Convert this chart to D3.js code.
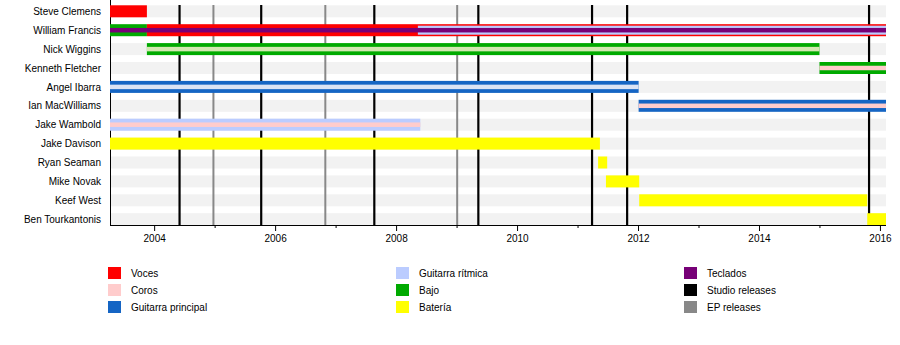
<!DOCTYPE html>
<html>
<head>
<meta charset="utf-8">
<script src="https://cdn.jsdelivr.net/npm/d3@7"></script>
<style>
  body { margin: 0; background: #fff; }
  svg { display: block; font-family: "Liberation Sans", Arial, sans-serif; }
</style>
</head>
<body>
<svg id="chart" width="900" height="345"></svg>
<script>
// Timeline span (decimal years)
const periodStart = 2003.27;
const periodEnd = 2016.1;

const members = [
  "Steve Clemens", "William Francis", "Nick Wiggins", "Kenneth Fletcher",
  "Angel Ibarra", "Ian MacWilliams", "Jake Wambold", "Jake Davison",
  "Ryan Seaman", "Mike Novak", "Keef West", "Ben Tourkantonis"
];

const roleColors = {
  voc: "#ff0000",
  bvoc: "#ffcccc",
  lead: "#1565c4",
  rhythm: "#bbccff",
  bass: "#00aa00",
  drums: "#ffff00",
  keys: "#770077",
  bassInner: "#d4e8b2",
  leadInner: "#dbe3f4",
  studio: "#000000",
  ep: "#888888"
};

// Legend entries, laid out column by column
const legendItems = [
  ["Voces", "voc"], ["Coros", "bvoc"], ["Guitarra principal", "lead"],
  ["Guitarra rítmica", "rhythm"], ["Bajo", "bass"], ["Batería", "drums"],
  ["Teclados", "keys"], ["Studio releases", "studio"], ["EP releases", "ep"]
];

const studioReleases = [2004.42, 2005.77, 2007.64, 2009.36, 2011.24, 2011.82, 2015.82];
const epReleases = [2004.98, 2006.83, 2009.01];

const majorTicks = [2004, 2006, 2008, 2010, 2012, 2014, 2016];
const minorTicks = [2005, 2007, 2009, 2011, 2013, 2015];

// [member, role, from, till, layer]  layer: 0 = full bar, 1 = medium, 2 = thin stripe
const periods = [
  ["Steve Clemens", "voc", periodStart, 2003.88, 0],
  ["William Francis", "bass", periodStart, 2003.88, 0],
  ["William Francis", "voc", 2003.88, periodEnd, 0],
  ["William Francis", "rhythm", 2008.36, periodEnd, 1],
  ["William Francis", "keys", periodStart, periodEnd, 2],
  ["Nick Wiggins", "bass", 2003.88, 2015.0, 0],
  ["Nick Wiggins", "bassInner", 2003.88, 2015.0, 2],
  ["Kenneth Fletcher", "bass", 2015.0, periodEnd, 0],
  ["Kenneth Fletcher", "bvoc", 2015.0, periodEnd, 2],
  ["Angel Ibarra", "lead", periodStart, 2012.01, 0],
  ["Angel Ibarra", "leadInner", periodStart, 2012.01, 2],
  ["Ian MacWilliams", "lead", 2012.01, periodEnd, 0],
  ["Ian MacWilliams", "bvoc", 2012.01, periodEnd, 2],
  ["Jake Wambold", "rhythm", periodStart, 2008.4, 0],
  ["Jake Wambold", "bvoc", periodStart, 2008.4, 2],
  ["Jake Davison", "drums", periodStart, 2011.37, 0],
  ["Ryan Seaman", "drums", 2011.34, 2011.49, 0],
  ["Mike Novak", "drums", 2011.47, 2012.02, 0],
  ["Keef West", "drums", 2012.02, 2015.79, 0],
  ["Ben Tourkantonis", "drums", 2015.79, periodEnd, 0]
];

const layerWidths = [12, 9, 4.5];

const svg = d3.select("#chart");
const plot = { left: 110, right: 886, top: 5, bottom: 225 };

const x = d3.scaleLinear().domain([periodStart, periodEnd]).range([plot.left, plot.right]);
const y = d3.scaleBand().domain(members).range([1.85, 228.65]).paddingInner(0);
const cy = m => y(m) + y.bandwidth() / 2;

// Row background bands
svg.append("g").selectAll("rect").data(members).join("rect")
  .attr("x", plot.left).attr("width", plot.right - plot.left)
  .attr("y", m => cy(m) - 6).attr("height", 12)
  .attr("fill", "#f2f2f2");

// Left axis line
svg.append("line")
  .attr("x1", plot.left + 0.5).attr("x2", plot.left + 0.5)
  .attr("y1", 0).attr("y2", plot.bottom)
  .attr("stroke", "#000").attr("stroke-width", 1);

// Release markers
const releases = svg.append("g");
releases.selectAll("line.ep").data(epReleases).join("line")
  .attr("class", "ep")
  .attr("x1", d => x(d)).attr("x2", d => x(d))
  .attr("y1", plot.top).attr("y2", plot.bottom)
  .attr("stroke", roleColors.ep).attr("stroke-width", 2);
releases.selectAll("line.studio").data(studioReleases).join("line")
  .attr("class", "studio")
  .attr("x1", d => x(d)).attr("x2", d => x(d))
  .attr("y1", plot.top).attr("y2", plot.bottom)
  .attr("stroke", roleColors.studio).attr("stroke-width", 2.2);

// Member bars, drawn layer by layer
const sorted = periods.slice().sort((a, b) => a[4] - b[4]);
svg.append("g").selectAll("rect").data(sorted).join("rect")
  .attr("x", d => x(d[2]))
  .attr("width", d => x(d[3]) - x(d[2]))
  .attr("y", d => cy(d[0]) - layerWidths[d[4]] / 2)
  .attr("height", d => layerWidths[d[4]])
  .attr("fill", d => roleColors[d[1]]);

// Member names
svg.append("g").selectAll("text").data(members).join("text")
  .attr("x", 101).attr("y", m => cy(m) + 3.6)
  .attr("text-anchor", "end")
  .attr("font-size", 10).attr("fill", "#000")
  .text(m => m);

// Time axis
const axisMajor = d3.axisBottom(x).tickValues(majorTicks).tickFormat(d3.format("d")).tickSize(6).tickPadding(4);
const axisMinor = d3.axisBottom(x).tickValues(minorTicks).tickFormat("").tickSize(3);
const gMinor = svg.append("g").attr("transform", `translate(0,${plot.bottom})`).call(axisMinor);
gMinor.select(".domain").remove();
const gMajor = svg.append("g").attr("transform", `translate(0,${plot.bottom})`).call(axisMajor);
gMajor.select(".domain").attr("d", `M${plot.left},0.5H${plot.right}`);
svg.selectAll(".tick text").attr("font-size", 10).attr("font-family", '"Liberation Sans", Arial, sans-serif');

// Legend
const legendCols = [108, 396, 684];
const legendRows = [267, 284, 301];
const legend = svg.append("g").selectAll("g").data(legendItems).join("g")
  .attr("transform", (d, i) => `translate(${legendCols[Math.floor(i / 3)]},${legendRows[i % 3]})`);
legend.append("rect").attr("width", 13).attr("height", 12).attr("fill", d => roleColors[d[1]]);
legend.append("text").attr("x", 23).attr("y", 9.8)
  .attr("font-size", 10).attr("fill", "#000")
  .text(d => d[0]);
</script>
</body>
</html>
